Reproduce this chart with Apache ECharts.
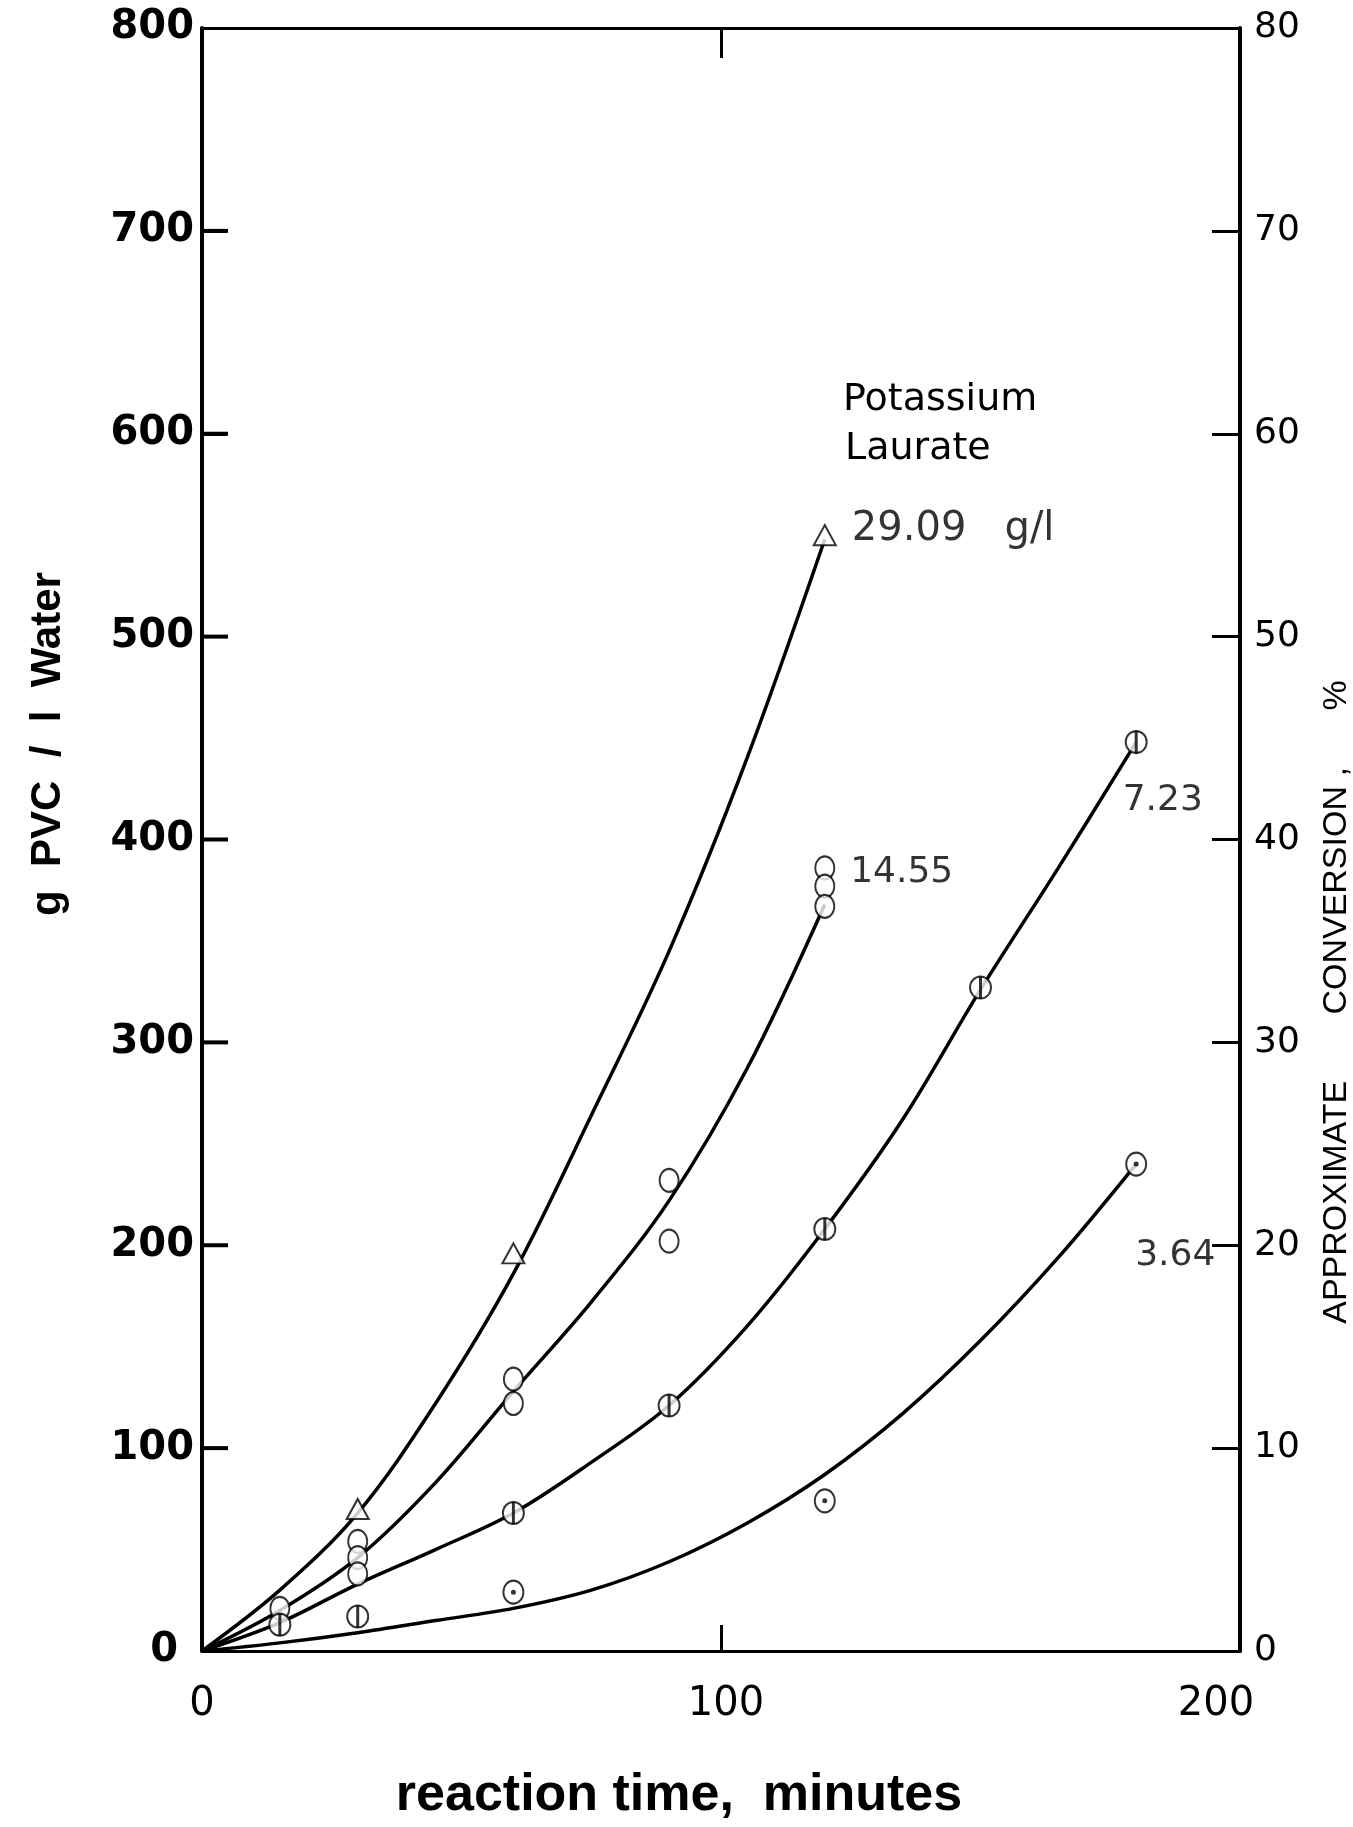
<!DOCTYPE html>
<html>
<head>
<meta charset="utf-8">
<script src="https://cdn.jsdelivr.net/npm/echarts@6/dist/echarts.min.js"></script>
<style>
  html, body { margin: 0; padding: 0; background: #ffffff; }
  #chart { width: 1353px; height: 1827px; }
</style>
</head>
<body>
<div id="chart"></div>
<script>
// ---- Data ----
// x: reaction time (minutes); y: g PVC / l water
const xTicks = [0, 100, 200];
const yLeftTicks = [0, 100, 200, 300, 400, 500, 600, 700, 800];
const yRightTicks = [0, 10, 20, 30, 40, 50, 60, 70, 80];

// measured points
const k2909_t = [30, 60, 120];
const k2909_v = [70, 196, 550];

const k1455_t = [15, 30, 30, 30, 60, 60, 90, 90, 120, 120, 120];
const k1455_v = [21, 54, 46, 38, 134, 122, 232, 202, 386, 377, 367];

const k723_t = [15, 30, 60, 90, 120, 150, 180];
const k723_v = [13, 17, 68, 121, 208, 327, 448];

const k364_t = [60, 120, 180];
const k364_v = [29, 74, 240];

// drawn curves
const c2909_t = [0, 15, 30, 45, 60, 75, 90, 105, 120];
const c2909_v = [0, 30, 68, 122, 186, 264, 345, 440, 548];

const c1455_t = [0, 15, 30, 45, 60, 75, 90, 105, 120];
const c1455_v = [0, 20, 46, 83, 128, 172, 222, 287, 368];

const c723_t = [0, 15, 30, 45, 60, 75, 90, 105, 120, 135, 150, 165, 180];
const c723_v = [0, 14, 33, 50, 68, 93, 121, 160, 208, 262, 326, 386, 448];

const c364_t = [0, 15, 30, 45, 60, 75, 90, 105, 120, 135, 150, 165, 180];
const c364_v = [0, 4, 9, 15, 21, 30, 44, 63, 87, 117, 153, 194, 240];

// annotation texts
const seriesLabels = { k2909: '29.09   g/l', k1455: '14.55', k723: '7.23', k364: '3.64' };
const titleText = ['Potassium', 'Laurate'];
const xTitle = 'reaction time,  minutes';
const yLeftTitle = 'g  PVC  /  l  Water';
const yRightTitle = 'APPROXIMATE       CONVERSION ,      %';

// ---- helpers ----
const INK = '#000000';
function pairs(t, v) { return t.map((x, i) => [x, v[i]]); }
function withLabel(t, v, idx, labelOpt) {
  return t.map((x, i) => {
    const item = { value: [x, v[i]] };
    if (i === idx) item.label = Object.assign({ show: true, color: INK, fontFamily: 'DejaVu Sans', textBorderWidth: 0 }, labelOpt);
    return item;
  });
}
function curve(name, t, v) {
  return {
    name: name, type: 'line', data: pairs(t, v), showSymbol: false, symbol: 'none',
    smooth: 0.35,
    lineStyle: { color: INK, width: 3.5 }, z: 2, silent: true
  };
}

const chart = echarts.init(document.getElementById('chart'), null, { renderer: 'canvas' });

const option = {
  backgroundColor: '#ffffff',
  animation: false,
  grid: { left: 202, right: 113, top: 28, bottom: 169, containLabel: false },
  xAxis: [
    {
      type: 'value', position: 'bottom', min: xTicks[0], max: xTicks[xTicks.length - 1], interval: 100,
      axisLine: { show: true, onZero: false, lineStyle: { color: INK, width: 3 } },
      axisTick: { show: true, inside: true, length: 26, lineStyle: { color: INK, width: 3 } },
      splitLine: { show: false },
      axisLabel: {
        color: INK, fontSize: 40, fontFamily: 'DejaVu Sans', margin: 34,
        formatter: function (v) { return v === 200 ? '{r|' + v + '}' : (v === 100 ? '{m|' + v + '}' : '{n|' + v + '}'); },
        rich: {
          n: { fontSize: 40, fontFamily: 'DejaVu Sans', color: INK },
          m: { fontSize: 40, fontFamily: 'DejaVu Sans', color: INK, padding: [0, 0, 0, 10] },
          r: { fontSize: 40, fontFamily: 'DejaVu Sans', color: INK, padding: [0, 48, 0, 0] }
        }
      },
      name: xTitle, nameLocation: 'middle', nameGap: 119,
      nameTextStyle: { color: INK, fontSize: 52, fontWeight: 'bold', fontFamily: 'Liberation Sans', padding: [0, 84, 0, 0] }
    },
    {
      type: 'value', position: 'top', min: xTicks[0], max: xTicks[xTicks.length - 1], interval: 100,
      axisLine: { show: true, onZero: false, lineStyle: { color: INK, width: 3 } },
      axisTick: { show: true, inside: true, length: 30, lineStyle: { color: INK, width: 3 } },
      splitLine: { show: false },
      axisLabel: { show: false }
    }
  ],
  yAxis: [
    {
      type: 'value', position: 'left', min: yLeftTicks[0], max: yLeftTicks[yLeftTicks.length - 1], interval: 100,
      axisLine: { show: true, onZero: false, lineStyle: { color: INK, width: 4 } },
      axisTick: { show: true, inside: true, length: 24, lineStyle: { color: INK, width: 3 } },
      splitLine: { show: false },
      axisLabel: {
        color: INK, fontSize: 40, fontWeight: 'bold', fontFamily: 'DejaVu Sans', margin: 8,
        formatter: function (v) { return v === 0 ? '{z|0}' : '{n|' + v + '}'; },
        rich: {
          n: { fontSize: 40, fontWeight: 'bold', fontFamily: 'DejaVu Sans', color: INK },
          z: { fontSize: 40, fontWeight: 'bold', fontFamily: 'DejaVu Sans', color: INK, padding: [0, 16, 0, 0] }
        }
      }
    },
    {
      type: 'value', position: 'right', min: yRightTicks[0], max: yRightTicks[yRightTicks.length - 1], interval: 10,
      axisLine: { show: true, onZero: false, lineStyle: { color: INK, width: 4 } },
      axisTick: { show: true, inside: true, length: 28, lineStyle: { color: INK, width: 3 } },
      splitLine: { show: false },
      axisLabel: { color: INK, fontSize: 36, fontFamily: 'DejaVu Sans', margin: 14 }
    }
  ],
  graphic: [
    { type: 'text', left: 843, top: 381, style: { text: titleText[0], fontSize: 38, fontFamily: 'DejaVu Sans', fill: INK } },
    { type: 'text', left: 845, top: 430, style: { text: titleText[1], fontSize: 38, fontFamily: 'DejaVu Sans', fill: INK } },
    { type: 'text', x: 48, y: 744, rotation: Math.PI / 2,
      style: { text: yLeftTitle, fontSize: 42, fontWeight: 'bold', fontFamily: 'Liberation Sans', fill: INK, align: 'center', verticalAlign: 'middle' } },
    { type: 'text', x: 1337, y: 1002, rotation: Math.PI / 2,
      style: { text: yRightTitle, fontSize: 34, fontFamily: 'Liberation Sans', fill: INK, align: 'center', verticalAlign: 'middle' } }
  ],
  series: [
    {
      // inward tick marks on the left axis, placed through the y scale
      name: 'left ticks', type: 'custom', silent: true, clip: false, z: 10,
      data: yLeftTicks.slice(1, -1).map(v => [xTicks[0], v]),
      renderItem: function (params, api) {
        const p = api.coord([api.value(0), api.value(1)]);
        return {
          type: 'rect',
          shape: { x: p[0], y: p[1] - 2, width: 26, height: 4 },
          style: { fill: INK }
        };
      }
    },
    curve('c2909', c2909_t, c2909_v),
    curve('c1455', c1455_t, c1455_v),
    curve('c723', c723_t, c723_v),
    curve('c364', c364_t, c364_v),
    {
      name: '29.09 g/l', type: 'scatter', symbol: 'emptyTriangle', symbolSize: [22, 20],
      itemStyle: { color: INK, borderColor: INK, borderWidth: 3 }, z: 5,
      data: withLabel(k2909_t, k2909_v, 2, { formatter: seriesLabels.k2909, position: 'right', fontSize: 40, offset: [10, -6] })
    },
    {
      name: '14.55', type: 'scatter', symbol: 'emptyCircle', symbolSize: [19, 23],
      itemStyle: { color: INK, borderColor: INK, borderWidth: 3 }, z: 5,
      data: withLabel(k1455_t, k1455_v, 8, { formatter: seriesLabels.k1455, position: 'right', fontSize: 36, offset: [10, 5] })
    },
    {
      name: '7.23', type: 'scatter', symbol: 'emptyCircle', symbolSize: [21, 22],
      itemStyle: { color: INK, borderColor: INK, borderWidth: 3 }, z: 5,
      data: withLabel(k723_t, k723_v, 6, { formatter: seriesLabels.k723, position: 'right', fontSize: 36, offset: [-30, 59] })
    },
    {
      name: '7.23 bar', type: 'scatter', symbol: 'rect', symbolSize: [3, 22],
      itemStyle: { color: INK }, z: 6, data: pairs(k723_t, k723_v)
    },
    {
      name: '3.64', type: 'scatter', symbol: 'emptyCircle', symbolSize: [20, 23],
      itemStyle: { color: INK, borderColor: INK, borderWidth: 3 }, z: 5,
      data: withLabel(k364_t, k364_v, 2, { formatter: seriesLabels.k364, position: 'right', fontSize: 36, offset: [-17, 92] })
    },
    {
      name: '3.64 dot', type: 'scatter', symbol: 'circle', symbolSize: 5,
      itemStyle: { color: INK }, z: 6, data: pairs(k364_t, k364_v)
    }
  ]
};

chart.setOption(option);
</script>
</body>
</html>
